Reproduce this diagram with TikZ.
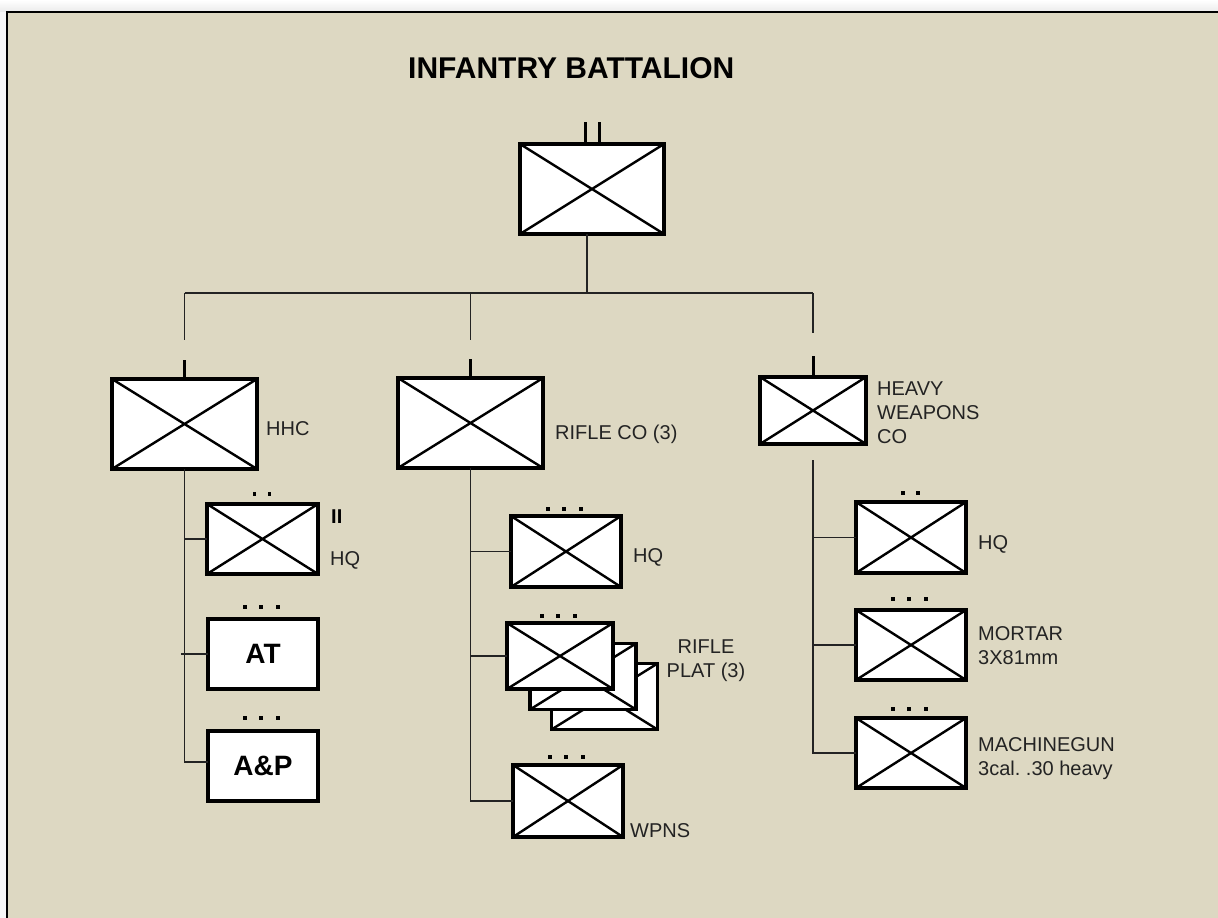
\documentclass[tikz,border=0pt]{standalone}
\usepackage{fontspec}
\setmainfont{Liberation Sans}
\usetikzlibrary{calc}
\frenchspacing
\definecolor{bg}{RGB}{221,216,194}
\definecolor{ink}{RGB}{35,35,35}
\tikzset{
  unit/.style={draw=black, fill=white, line width=3.2pt, minimum width=110pt, minimum height=70pt,
    inner sep=0pt, outer sep=0pt,
    path picture={\draw[black, line width=2.4pt]
      (path picture bounding box.north west) -- (path picture bounding box.south east)
      (path picture bounding box.south west) -- (path picture bounding box.north east);}},
  plainunit/.style={draw=black, fill=white, line width=3.2pt, minimum width=110pt, minimum height=70pt,
    inner sep=0pt, outer sep=0pt, font=\fontsize{28}{30}\selectfont\bfseries},
  conn/.style={draw=ink, line width=1.7pt},
  tickline/.style={draw=black, line width=3pt},
  lbl/.style={anchor=north west, inner sep=0pt, text=ink, font=\fontsize{20}{24}\selectfont, align=left},
}
\newcommand\threedots[2]{\foreach \dx in {-18,-2,15}{\fill ($(#1.north)+(\dx-1.75,-#2-1.75)$) rectangle ++(3.5,3.5);}}
\newcommand\twodots[2]{\foreach \dx in {-8,7}{\fill ($(#1.north)+(\dx-1.75,-#2-1.75)$) rectangle ++(3.5,3.5);}}
\begin{document}
\begin{tikzpicture}[x=1pt,y=-1pt]
\useasboundingbox (0,0) rectangle (1218,918);
% frame
\shade[top color=white, bottom color=black!8] (0,0) rectangle (1218,12);
\fill[black!3] (0,12) rectangle (7,918);
\fill[bg] (7,12) rectangle (1218,918);
\draw[line width=2.4pt] (7,918) -- (7,12) -- (1218,12);

% title
\node[anchor=north west, inner sep=0pt, font=\fontsize{30}{33}\selectfont\bfseries] (title) at (408,57.5) {INFANTRY BATTALION};

\coordinate (bus) at (0,293);

% top level boxes
\node[unit, minimum width=144pt, minimum height=90pt] (bn) at (592,189) {};
\node[unit, minimum width=145pt, minimum height=90pt] (hhc) at (184.5,424) {};
\node[unit, minimum width=145pt, minimum height=90pt] (rco) at (470.5,423) {};
\node[unit, minimum width=106pt, minimum height=67pt] (hw) at (813,410.5) {};

% connectors
\draw[conn] ([xshift=-5pt]bn.south) -- ([xshift=-5pt]bn.south |- bus);
\draw[conn] (hhc.north |- bus) -- (hw.north |- bus);
\draw[conn] (hhc.north |- bus) -- ++(0,47);
\draw[conn] (rco.north |- bus) -- ++(0,47);
\draw[conn] (hw.north |- bus) -- ++(0,40);
\draw[tickline] ([xshift=-7pt]bn.north) -- ++(0,-22);
\draw[tickline] ([xshift=7pt]bn.north) -- ++(0,-22);
\draw[tickline] (hhc.north) -- ++(0,-19);
\draw[tickline] (rco.north) -- ++(0,-19);
\draw[tickline] (hw.north) -- ++(0,-21);

% HHC column
\node[unit, minimum width=111pt] (hhq) at (262.5,539) {};
\node[plainunit] (at) at (263,654) {AT};
\node[plainunit] (ap) at (263,766) {A\&P};
\draw[conn] (hhc.south) |- ([yshift=4pt]ap.west);
\draw[conn] (hhq.west) -- (hhq.west -| hhc.south);
\draw[conn] (at.west) -- ([xshift=-4pt]at.west -| hhc.south);
\twodots{hhq}{10}
\threedots{at}{12}
\threedots{ap}{13}
\node[anchor=north west, inner sep=0pt, text=black, font=\fontsize{20}{22}\selectfont\bfseries] (ii) at (331,510) {II};

% Rifle column
\node[unit, minimum height=71pt] (rhq) at (566,551.5) {};
\node[unit, minimum width=106pt, minimum height=66pt] (rp3) at (604.5,696.5) {};
\node[unit, minimum width=106pt, minimum height=66pt] (rp2) at (583,676.5) {};
\node[unit, minimum width=106pt, minimum height=66pt] (rp1) at (560,656) {};
\node[unit, minimum height=72pt] (wpns) at (568,801) {};
\draw[conn] (rco.south) |- (wpns.west);
\draw[conn] (rhq.west) -- (rhq.west -| rco.south);
\draw[conn] (rp1.west) -- (rp1.west -| rco.south);
\threedots{rhq}{7}
\threedots{rp1}{7}
\threedots{wpns}{8}

% Heavy weapons column
\node[unit, minimum height=71pt] (whq) at (911,537.5) {};
\node[unit] (mor) at (911,645) {};
\node[unit] (mg) at (911,753) {};
\coordinate (hwtop) at ($(hw.south)+(0,16)$);
\draw[conn] (hwtop) |- (mg.west);
\draw[conn] (whq.west) -- (whq.west -| hwtop);
\draw[conn] (mor.west) -- (mor.west -| hwtop);
\twodots{whq}{9}
\threedots{mor}{11}
\threedots{mg}{9}

% labels
\node[lbl] (lhhc) at (266,421) {HHC};
\node[lbl] (lhhq) at (330,551) {HQ};
\node[lbl] (lrco) at (555,425) {RIFLE CO (3)};
\node[lbl] (lrhq) at (633,548) {HQ};
\node[lbl, anchor=north, align=center] (lrp) at (706,640) {RIFLE\\PLAT (3)};
\node[lbl] (lwpns) at (630,823) {WPNS};
\node[lbl] (lhw) at (877,382) {HEAVY\\WEAPONS\\CO};
\node[lbl] (lwhq) at (978,535) {HQ};
\node[lbl] (lmor) at (978,626) {MORTAR\\3X81mm};
\node[lbl] (lmg) at (978,737) {MACHINEGUN\\3cal. .30 heavy};
\end{tikzpicture}
\end{document}
